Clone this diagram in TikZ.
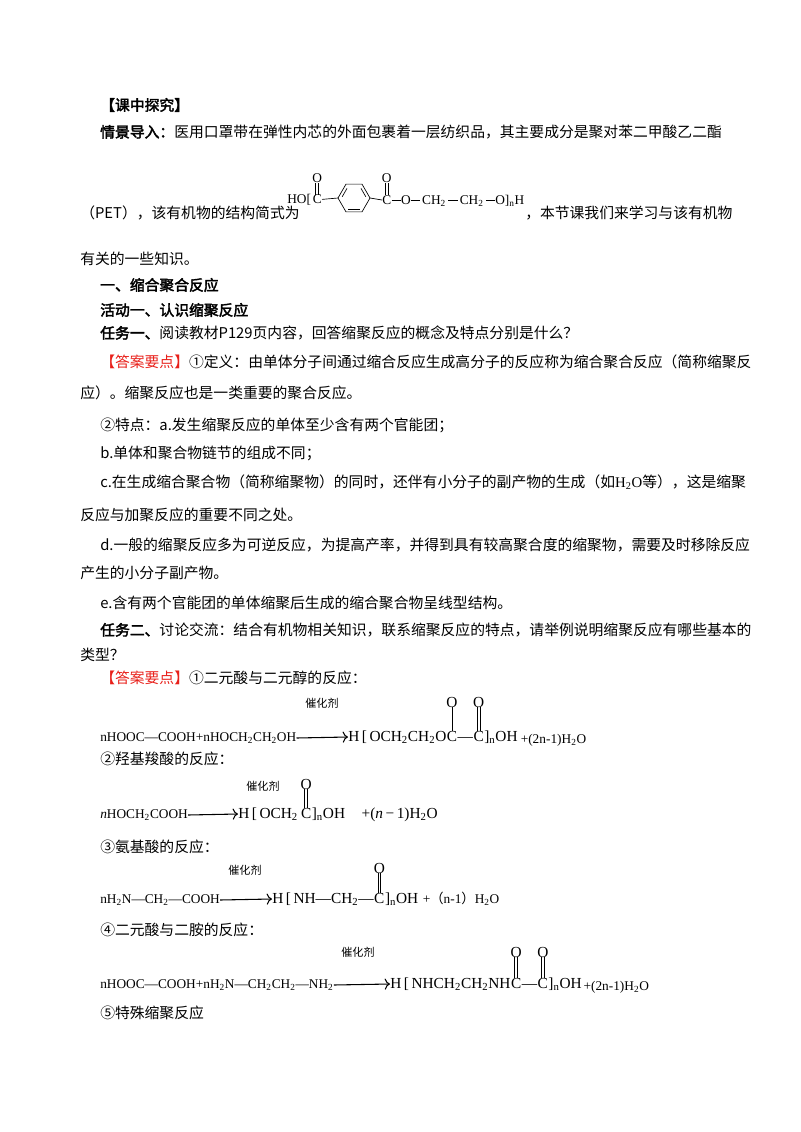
\documentclass[tikz,border=0pt]{standalone}
\usepackage{fontspec}
\usetikzlibrary{calc,arrows.meta}
\setmainfont{Liberation Serif}
\newfontfamily\cjk[AutoFakeBold=2.5]{Noto Sans CJK SC}
\definecolor{ansred}{HTML}{E8201A}
\tikzset{
 txt/.style={anchor=west,inner sep=0,font=\cjk\fontsize{11.1}{13}\selectfont},
 chem/.style={inner sep=0,font=\rmfamily\fontsize{10}{12}\selectfont},
 chemr/.style={chem,anchor=base west},
 prod/.style={inner sep=0,font=\rmfamily\fontsize{11.5}{13}\selectfont},
 prodr/.style={prod,anchor=base west},
 catal/.style={inner sep=0,font=\cjk\fontsize{8.3}{10}\selectfont},
 rarrow/.style={-{To[length=4pt]},line width=0.8pt},
 bond/.style={line width=0.5pt}
}
\newcommand{\dblb}[2]{\draw[bond] ([xshift=-1.1pt]#1.south) -- ([xshift=-1.1pt]#2.north);\draw[bond] ([xshift=1.1pt]#1.south) -- ([xshift=1.1pt]#2.north);}
\newcommand{\bd}{\rule[2.7pt]{7pt}{0.5pt}}
\begin{document}
\begin{tikzpicture}[x=0.75pt,y=-0.75pt]
\useasboundingbox (0,0) rectangle (800,1132);
\node[txt] (l1) at (100,105) {\textbf{【课中探究】}};
\node[txt] (l2) at (100,132) {\textbf{情景导入：}医用口罩带在弹性内芯的外面包裹着一层纺织品，其主要成分是聚对苯二甲酸乙二酯};
\node[txt] (l3) at (80,213) {（PET），该有机物的结构简式为};
% PET structure
\node[chem,anchor=west] (pho) at (287,200) {HO[};
\node[chemr] (pc1) at ([xshift=1pt]pho.base east) {C};
\node[chem] (po1) at (pc1 |- 0,178) {O};
\dblb{po1}{pc1}
\coordinate (rl) at (338,198); \coordinate (rr) at (370,198);
\coordinate (r1) at (346,184.1); \coordinate (r2) at (362,184.1);
\coordinate (r4) at (362,211.9); \coordinate (r5) at (346,211.9);
\draw[bond] (rl)--(r1)--(r2)--(rr)--(r4)--(r5)--cycle;
\draw[bond] ($(rl)!0.2!(r1)+(2.6,1.5)$) -- ($(rl)!0.8!(r1)+(2.6,1.5)$);
\draw[bond] ($(r5)!0.15!(r4)+(0,-3)$) -- ($(r5)!0.85!(r4)+(0,-3)$);
\draw[bond] ($(r2)!0.2!(rr)+(-2.6,1.5)$) -- ($(r2)!0.8!(rr)+(-2.6,1.5)$);
\draw[bond] (pc1.east) -- (rl);
\node[chem,anchor=west] (pc2) at (382,200) {C};
\draw[bond] (rr) -- (pc2.west);
\node[chem] (po2) at (pc2 |- 0,178) {O};
\dblb{po2}{pc2}
\node[chemr] (prest) at (pc2.base east) {\bd O\bd\,CH\textsubscript{2}\,\bd\,CH\textsubscript{2}\,\bd O]\textsubscript{n}H};
\node[txt] (l3b) at (525,213) {，本节课我们来学习与该有机物};
\node[txt] (l4) at (80,259) {有关的一些知识。};
\node[txt] (l5) at (100,285) {\textbf{一、缩合聚合反应}};
\node[txt] (l6) at (100,310) {\textbf{活动一、认识缩聚反应}};
\node[txt] (l7) at (100,333) {\textbf{任务一、}阅读教材P129页内容，回答缩聚反应的概念及特点分别是什么？};
\node[txt] (l8) at (100,362) {\textcolor{ansred}{【答案要点】}①定义：由单体分子间通过缩合反应生成高分子的反应称为缩合聚合反应（简称缩聚反};
\node[txt] (l9) at (80,393) {应）。缩聚反应也是一类重要的聚合反应。};
\node[txt] (l10) at (100,425) {②特点：a.发生缩聚反应的单体至少含有两个官能团；};
\node[txt] (l11) at (100,453) {b.单体和聚合物链节的组成不同；};
\node[txt] (l12) at (100,482) {c.在生成缩合聚合物（简称缩聚物）的同时，还伴有小分子的副产物的生成（如{\rmfamily H\textsubscript{2}O}等），这是缩聚};
\node[txt] (l13) at (80,515) {反应与加聚反应的重要不同之处。};
\node[txt] (l14) at (100,545) {d.一般的缩聚反应多为可逆反应，为提高产率，并得到具有较高聚合度的缩聚物，需要及时移除反应};
\node[txt] (l15) at (80,573) {产生的小分子副产物。};
\node[txt] (l16) at (100,603) {e.含有两个官能团的单体缩聚后生成的缩合聚合物呈线型结构。};
\node[txt] (l17) at (100,630) {\textbf{任务二、}讨论交流：结合有机物相关知识，联系缩聚反应的特点，请举例说明缩聚反应有哪些基本的};
\node[txt] (l18) at (80,655) {类型？};
\node[txt] (l19) at (100,678) {\textcolor{ansred}{【答案要点】}①二元酸与二元醇的反应：};
% reaction 1
\node[catal] (k1) at (322,703) {催化剂};
\node[chem,anchor=west] (a1) at (100,738) {nHOOC\textemdash COOH+nHOCH\textsubscript{2}CH\textsubscript{2}OH};
\node[prod,anchor=west] (p1) at (348,737) {H\,[\,OCH\textsubscript{2}CH\textsubscript{2}O};
\node[prodr] (p1c1) at (p1.base east) {C};
\node[prodr] (p1m) at (p1c1.base east) {\textemdash};
\node[prodr] (p1c2) at (p1m.base east) {C};
\node[prodr] (p1e) at (p1c2.base east) {]\textsubscript{n}OH};
\node[chemr] (p1w) at ([xshift=2pt,yshift=-1.5pt]p1e.base east) {+(2n-1)H\textsubscript{2}O};
\node[prod] (p1o1) at (p1c1 |- 0,702) {O};
\node[prod] (p1o2) at (p1c2 |- 0,702) {O};
\draw[bond] (p1o1.south) -- (p1c1.north);
\dblb{p1o2}{p1c2}
\draw[rarrow] (a1.east) -- (p1.west);
\node[txt] (l20) at (100,759) {②羟基羧酸的反应：};
% reaction 2
\node[catal] (k2) at (263,786) {催化剂};
\node[chem,anchor=west] (a2) at (100,815) {\textit{n}HOCH\textsubscript{2}COOH};
\node[prod,anchor=west] (p2) at (238,814) {H\,[\,OCH\textsubscript{2}\,};
\node[prodr] (p2c) at (p2.base east) {C};
\node[prodr] (p2e) at (p2c.base east) {]\textsubscript{n}OH};
\node[prodr] (p2w) at ([xshift=12pt]p2e.base east) {+(\textit{n}\,\textminus\,1)H\textsubscript{2}O};
\node[prod] (p2o) at (p2c |- 0,784) {O};
\dblb{p2o}{p2c}
\draw[rarrow] (a2.east) -- (p2.west);
\node[txt] (l21) at (100,847) {③氨基酸的反应：};
% reaction 3
\node[catal] (k3) at (245,870) {催化剂};
\node[chem,anchor=west] (a3) at (100,900) {nH\textsubscript{2}N\textemdash CH\textsubscript{2}\textemdash COOH};
\node[prod,anchor=west] (p3) at (272,899) {H\,[\,NH\textemdash CH\textsubscript{2}\textemdash};
\node[prodr] (p3c) at (p3.base east) {C};
\node[prodr] (p3e) at (p3c.base east) {]\textsubscript{n}OH};
\node[chemr] (p3w) at ([xshift=3pt]p3e.base east) {+{\cjk（}n-1{\cjk）}H\textsubscript{2}O};
\node[prod] (p3o) at (p3c |- 0,868) {O};
\dblb{p3o}{p3c}
\draw[rarrow] (a3.east) -- (p3.west);
\node[txt] (l22) at (100,930) {④二元酸与二胺的反应：};
% reaction 4
\node[catal] (k4) at (358,952) {催化剂};
\node[chem,anchor=west] (a4) at (100,985) {nHOOC\textemdash COOH+nH\textsubscript{2}N\textemdash CH\textsubscript{2}CH\textsubscript{2}\textemdash NH\textsubscript{2}};
\node[prod,anchor=west] (p4) at (390,984) {H\,[\,NHCH\textsubscript{2}CH\textsubscript{2}NH};
\node[prodr] (p4c1) at (p4.base east) {C};
\node[prodr] (p4m) at (p4c1.base east) {\textemdash};
\node[prodr] (p4c2) at (p4m.base east) {C};
\node[prodr] (p4e) at (p4c2.base east) {]\textsubscript{n}OH};
\node[chemr] (p4w) at ([xshift=1pt,yshift=-1.5pt]p4e.base east) {+(2n-1)H\textsubscript{2}O};
\node[prod] (p4o1) at (p4c1 |- 0,952) {O};
\node[prod] (p4o2) at (p4c2 |- 0,952) {O};
\dblb{p4o1}{p4c1}
\dblb{p4o2}{p4c2}
\draw[rarrow] (a4.east) -- (p4.west);
\node[txt] (l23) at (100,1013) {⑤特殊缩聚反应};
\end{tikzpicture}
\end{document}
